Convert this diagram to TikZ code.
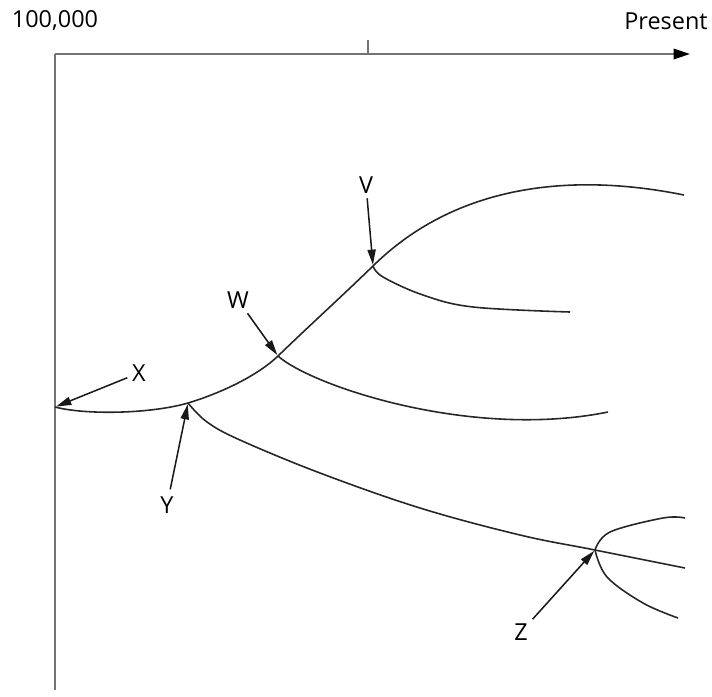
\documentclass[tikz,border=0pt]{standalone}
\usepackage{fontspec}
\setmainfont{Open Sans}
\usetikzlibrary{arrows.meta}
\tikzset{
  axis/.style={draw=black!55, line width=1.4pt},
  lineage/.style={draw=black!85, line width=1.35pt},
  pointer/.style={draw=black!90, line width=1.3pt, shorten >=1pt, -{Triangle[length=13pt,width=7pt]}},
  letter/.style={font=\fontsize{20}{24}\selectfont, inner sep=4pt}
}

\begin{document}
\begin{tikzpicture}[x=0.03cm, y=-0.03cm]
  \useasboundingbox (0,0) rectangle (712,696);

  % axes
  \coordinate (origin) at (55,54);
  \coordinate (axisend) at (690,54);
  \coordinate (axisbottom) at (55,690);
  \coordinate (tick) at (368,40);
  \draw[axis, -{Triangle[length=14pt,width=9pt,color=black]}] (origin) -- (axisend);
  \draw[axis] (origin) -- (axisbottom);
  \draw[axis] (tick) -- (tick |- origin);
  \node[letter] (past) at (55,21) {100,000};
  \node[letter] (present) at (666,21) {Present};

  % branch points
  \coordinate (X) at (55,407);
  \coordinate (Y) at (188,403);
  \coordinate (W) at (278,356);
  \coordinate (V) at (373,266);
  \coordinate (Z) at (595,550);
  \coordinate (top) at (684,195);

  % lineages
  \draw[lineage] (X) .. controls (85,415) and (150,414) .. (Y)
                     .. controls (215,395) and (255,378) .. (W)
                     .. controls (310,325) and (340,298) .. (V)
                     .. controls (450,190) and (560,170) .. (top);
  \draw[lineage] plot[smooth, tension=0.6] coordinates {(V) (383,277) (423,295) (473,307) (570,312)};
  \draw[lineage] (W) .. controls (310,385) and (470,440) .. (608,412);
  \draw[lineage] plot[smooth, tension=0.6] coordinates {(Y) (207,422) (240,440) (320,473) (420,508) (520,535) (Z) (685,568)};
  \draw[lineage] plot[smooth, tension=0.6] coordinates {(Z) (610,532) (663,518) (685,518)};
  \draw[lineage] plot[smooth, tension=0.6] coordinates {(Z) (607,577) (643,603) (678,618)};

  % labels
  \node[letter] (labX) at (139,373) {X};
  \node[letter, inner sep=6pt] (labY) at (167,505) {Y};
  \node[letter] (labW) at (238,300) {W};
  \node[letter] (labV) at (366,185) {V};
  \node[letter] (labZ) at (521,632) {Z};
  \draw[pointer] (labX) -- (X);
  \draw[pointer] (labY) -- (Y);
  \draw[pointer] (labW) -- (W);
  \draw[pointer] (labV) -- (V);
  \draw[pointer] (labZ) -- (Z);
\end{tikzpicture}
\end{document}
